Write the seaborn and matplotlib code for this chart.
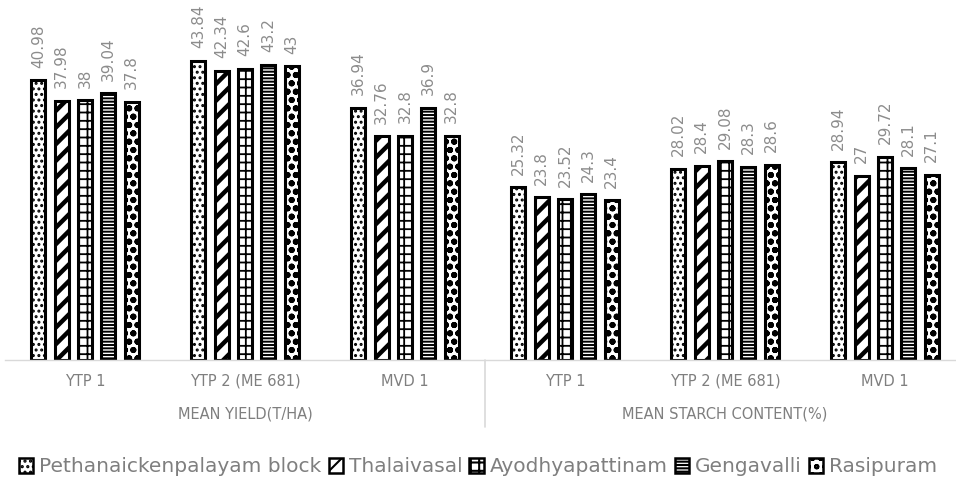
import matplotlib
matplotlib.use("Agg")
import matplotlib.pyplot as plt
import seaborn as sns
import pandas as pd
from matplotlib.patches import Patch

# Varieties within each measure, and the two measures
varieties = ["YTP 1", "YTP 2 (ME 681)", "MVD 1"]
measures = ["MEAN YIELD(T/HA)", "MEAN STARCH CONTENT(%)"]
blocks = ["Pethanaickenpalayam block", "Thalaivasal", "Ayodhyapattinam",
          "Gengavalli", "Rasipuram"]

# Values per block, ordered as (yield: YTP1, YTP2, MVD1, starch: YTP1, YTP2, MVD1)
pethanaickenpalayam = [40.98, 43.84, 36.94, 25.32, 28.02, 28.94]
thalaivasal = [37.98, 42.34, 32.76, 23.8, 28.4, 27]
ayodhyapattinam = [38, 42.6, 32.8, 23.52, 29.08, 29.72]
gengavalli = [39.04, 43.2, 36.9, 24.3, 28.3, 28.1]
rasipuram = [37.8, 43, 32.8, 23.4, 28.6, 27.1]

series = [pethanaickenpalayam, thalaivasal, ayodhyapattinam, gengavalli, rasipuram]
slots = [f"{m}|{v}" for m in measures for v in varieties]

rows = []
for b, vals in zip(blocks, series):
    for s, v in zip(slots, vals):
        rows.append({"slot": s, "block": b, "value": v})
df = pd.DataFrame(rows)

hatches = ["...", "//", "++", "-----", "oo"]
hatch_widths = [1.4, 3.2, 1.3, 1.4, 2.0]
grey = "#7f7f7f"
label_grey = "#8c8c8c"

sns.set_style("white")
plt.rcParams["font.family"] = ["DejaVu Sans"]
plt.rcParams["hatch.linewidth"] = 1.5


def style_hatch(patch, hatch, width):
    patch.set_hatch(hatch)
    if hasattr(patch, "set_hatch_linewidth"):
        patch.set_hatch_linewidth(width)


fig = plt.figure(figsize=(9.56, 4.87), dpi=100)
ax = fig.add_axes([5 / 956, 1 - 360 / 487, 960 / 956, 360 / 487])

sns.barplot(data=df, x="slot", y="value", hue="block", order=slots,
            hue_order=blocks, palette=["white"] * 5, width=0.73, gap=0.4,
            edgecolor="black", linewidth=2.2, legend=False, ax=ax)

for container, h, hw in zip(ax.containers, hatches, hatch_widths):
    for bar in container:
        style_hatch(bar, h, hw)
    ax.bar_label(container, fmt="%g", rotation=90, padding=9,
                 color=label_grey, fontsize=11)

ax.set_xlim(-0.5, 5.5)
ax.set_ylim(0, 52.7)
ax.set_xlabel("")
ax.set_ylabel("")
ax.set_yticks([])
ax.set_xticks([])
for side in ["top", "left", "right"]:
    ax.spines[side].set_visible(False)
ax.spines["bottom"].set_color("#d9d9d9")
ax.spines["bottom"].set_linewidth(1)

# Two-level category axis
trans = ax.get_xaxis_transform()
for i, s in enumerate(slots):
    ax.text(i, -21 / 360, s.split("|")[1], transform=trans, ha="center",
            va="center", color=grey, fontsize=10.5)
for j, m in enumerate(measures):
    ax.text(1 + 3 * j, -54 / 360, m, transform=trans, ha="center",
            va="center", color=grey, fontsize=10.5)
ax.plot([2.5, 2.5], [0, -67 / 360], transform=trans, color="#d9d9d9",
        lw=1.2, clip_on=False)

handles = []
for h, hw in zip(hatches, hatch_widths):
    p = Patch(facecolor="white", edgecolor="black", linewidth=1.8)
    style_hatch(p, h, hw)
    handles.append(p)
fig.legend(handles, blocks, loc="center", bbox_to_anchor=(0.5, 1 - 467 / 487),
           ncol=5, frameon=False, fontsize=14.5, labelcolor=grey,
           handlelength=0.7, handleheight=0.7, handletextpad=0.3,
           columnspacing=0.35, borderpad=0)

fig.savefig("out.png", dpi=100)
